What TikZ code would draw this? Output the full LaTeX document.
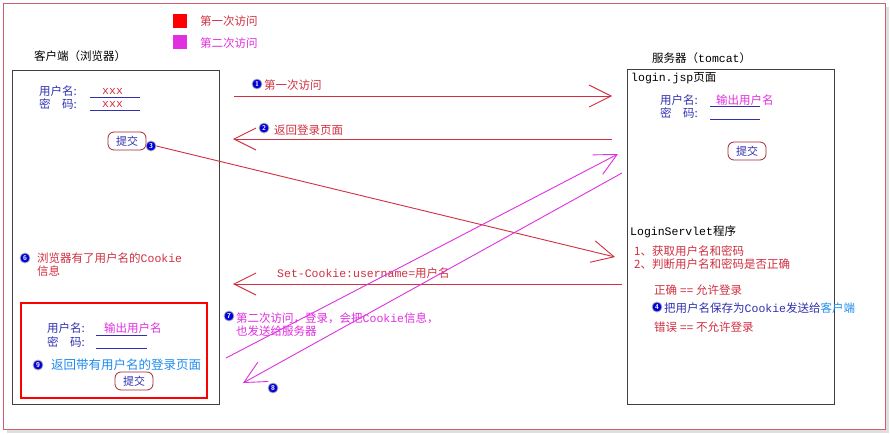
\documentclass[tikz,border=0pt]{standalone}
\usepackage{fontspec}
\setmainfont{Liberation Mono}
\newfontfamily\cjk{Noto Sans CJK SC}
\usetikzlibrary{arrows.meta}
\definecolor{rd}{HTML}{D03040}
\definecolor{mg}{HTML}{E030E0}
\definecolor{bl}{HTML}{3030B0}
\definecolor{lb}{HTML}{1E8CF0}
\definecolor{frame}{HTML}{D06070}
\tikzset{
  txt/.style={inner sep=0pt,anchor=west,font=\cjk\fontsize{11.5}{13}\selectfont},
  num/.style={circle,fill=blue!85!black,draw=gray!60,line width=0.8pt,text=white,inner sep=0pt,minimum size=10pt,font=\sffamily\bfseries\fontsize{7}{7}\selectfont},
  btn/.style={draw=rd!80!black,rounded corners=6pt,line width=0.8pt,text=bl,inner sep=2pt,minimum width=38pt,minimum height=18pt,font=\cjk\fontsize{11}{12}\selectfont},
  conn/.style={line width=0.9pt,-{Straight Barb[length=22pt,width=22pt,line width=0.9pt]}},
  box/.style={draw=gray!50!black,line width=1pt}
}
\newcommand{\lt}[1]{{\fontspec{Liberation Mono}#1}}
\begin{document}
\begin{tikzpicture}[x=1pt,y=-1pt]
\useasboundingbox (0,0) rectangle (890,434);
\fill[gray!25] (7,7) rectangle (889,433);
\draw[frame,fill=white,line width=1pt] (3,3) rectangle (885,429);
% legend
\fill[red] (173,14) rectangle (187,28);
\fill[mg] (173,35) rectangle (187,49);
\node[txt,text=rd] (l1) at (200,21) {第一次访问};
\node[txt,text=mg] (l2) at (200,43) {第二次访问};
% titles
\node[txt] (ct) at (34,56) {客户端（浏览器）};
\node[txt] (st) at (652,58) {服务器（\lt{tomcat}）};
% client box
\draw[box] (12,70) rectangle (219,404);
\node[txt,text=bl] (cu) at (39,91) {用户名:};
\node[txt,text=bl] (cp) at (39,104) {密\hspace{1em}码:};
\draw[bl] (90,97) -- (140,97) (90,110) -- (140,110);
\node[txt,text=rd] at (102,91) {\lt{xxx}};
\node[txt,text=rd] at (102,104) {\lt{xxx}};
\node[btn] (b1) at (127,141) {提交};
\node[num] (n3) at (151,146) {3};
% server box
\draw[box] (627,69) rectangle (834,404);
\node[txt] (lj) at (631,78) {\lt{login.jsp}页面};
\node[txt,text=bl] (su) at (660,100) {用户名:};
\node[txt,text=bl] (sp) at (660,113) {密\hspace{1em}码:};
\draw[bl] (710,106) -- (760,106) (710,119) -- (760,119);
\node[txt,text=mg] at (716,100) {输出用户名};
\node[btn] (b2) at (747,151) {提交};
\node[txt] (ls) at (630,232) {\lt{LoginServlet}程序};
\node[txt,text=rd] at (634,251) {1、获取用户名和密码};
\node[txt,text=rd] at (634,264) {2、判断用户名和密码是否正确};
\node[txt,text=rd] at (654,290) {正确 \lt{==} 允许登录};
\node[num] (n4) at (657,307) {4};
\node[txt,text=bl] (t4) at (664,308) {把用户名保存为\lt{Cookie}发送给\textcolor{lb}{客户端}};
\node[txt,text=rd] at (654,327) {错误 \lt{==} 不允许登录};
% client lower
\node[num] (n6) at (25,258) {6};
\node[txt,text=rd] at (37,258) {浏览器有了用户名的\lt{Cookie}};
\node[txt,text=rd] at (37,271) {信息};
\draw[red,line width=1.3pt] (21,303) rectangle (207,398);
\node[txt,text=bl] at (47,328) {用户名:};
\node[txt,text=bl] at (47,342) {密\hspace{1em}码:};
\draw[bl] (96,335) -- (147,335) (96,348) -- (147,348);
\node[txt,text=mg] at (104,328) {输出用户名};
\node[num] (n9) at (38,365) {9};
\node[txt,text=lb,font=\cjk\fontsize{12.5}{14}\selectfont] at (51,365) {返回带有用户名的登录页面};
\node[btn] (b3) at (134,381) {提交};
% connectors
\coordinate (a1s) at (234,96); \coordinate (a1e) at (612,96);
\draw[conn,rd] (a1s) -- (a1e);
\node[num] (n1) at (257,84) {1};
\node[txt,text=rd] at (264,85) {第一次访问};
\coordinate (a2s) at (612,139); \coordinate (a2e) at (233,139);
\draw[conn,rd] (a2s) -- (a2e);
\node[num] (n2) at (264,128) {2};
\node[txt,text=rd] at (274,130) {返回登录页面};
\coordinate (a3e) at (615,257);
\draw[conn,rd] (n3.east) -- (a3e);
\coordinate (a5s) at (622,284); \coordinate (a5e) at (233,284);
\draw[conn,rd] (a5s) -- (a5e);
\node[txt,text=rd] at (277,273) {\lt{Set-Cookie:username=}用户名};
\coordinate (a7s) at (226,358); \coordinate (a7e) at (618,154);
\draw[conn,mg] (a7s) -- (a7e);
\node[num] (n7) at (229,316) {7};
\node[txt,text=mg] at (236,318) {第二次访问，登录，会把\lt{Cookie}信息，};
\node[txt,text=mg] at (236,331) {也发送给服务器};
\coordinate (a8s) at (622,173); \coordinate (a8e) at (243,383);
\draw[conn,mg] (a8s) -- (a8e);
\node[num] (n8) at (273,388) {8};
\end{tikzpicture}
\end{document}
